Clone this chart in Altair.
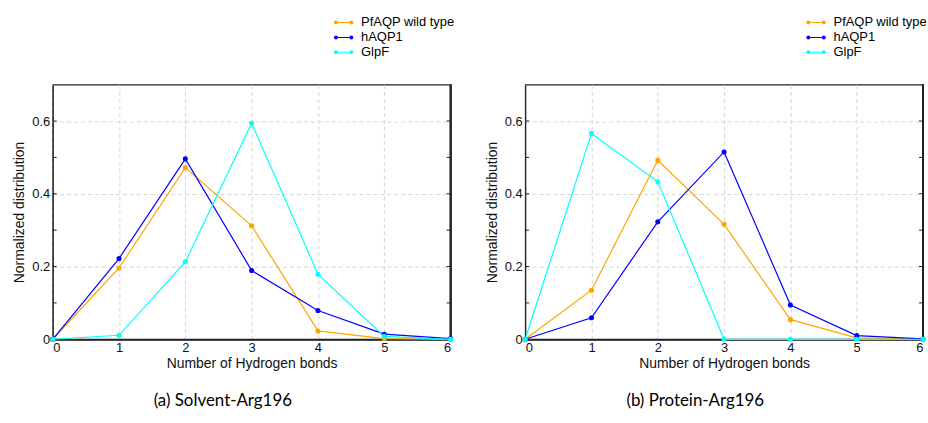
import altair as alt
import pandas as pd

# ---- data ----
hbonds = [0, 1, 2, 3, 4, 5, 6]
series_names = ["PfAQP wild type", "hAQP1", "GlpF"]
series_colors = ["#FFA500", "#0000FF", "#00FFFF"]

solvent_pfaqp = [0.0, 0.196, 0.472, 0.312, 0.023, 0.002, 0.0]
solvent_haqp1 = [0.0, 0.222, 0.496, 0.189, 0.079, 0.014, 0.002]
solvent_glpf = [0.0, 0.011, 0.213, 0.594, 0.179, 0.008, 0.0]

protein_pfaqp = [0.0, 0.135, 0.492, 0.316, 0.054, 0.004, 0.0]
protein_haqp1 = [0.0, 0.059, 0.323, 0.515, 0.094, 0.010, 0.001]
protein_glpf = [0.0, 0.566, 0.433, 0.0, 0.0, 0.0, 0.0]

x_tick_values = [0, 1, 2, 3, 4, 5, 6]
y_tick_values = [0, 0.2, 0.4, 0.6]
y_minor_ticks = [0.1, 0.2, 0.3, 0.4, 0.5, 0.6]

captions = ["(a) Solvent-Arg196", "(b) Protein-Arg196"]

W, H = 400, 256
FONT = "Liberation Sans"

# legend symbol: short line with a dot at each end (filled path)
LEGEND_SYMBOL = (
    "M-1.15,-0.1H1.15V0.1H-1.15Z"
    "M-1.15,0A0.4,0.4 0 1,0 -1.95,0A0.4,0.4 0 1,0 -1.15,0Z"
    "M1.95,0A0.4,0.4 0 1,0 1.15,0A0.4,0.4 0 1,0 1.95,0Z"
)


def long_df(series_values):
    rows = []
    for name, vals in zip(series_names, series_values):
        for n, v in zip(hbonds, vals):
            rows.append({"n": n, "dist": v, "series": name})
    return pd.DataFrame(rows)


def panel(df, caption):
    x_enc = alt.X(
        "n:Q",
        scale=alt.Scale(domain=[0, 6], nice=False, zero=False),
        axis=alt.Axis(values=x_tick_values, title="Number of Hydrogen bonds",
                      format="d"),
    )
    y_enc = alt.Y(
        "dist:Q",
        scale=alt.Scale(domain=[0, 0.7], nice=False),
        axis=alt.Axis(values=y_tick_values, title="Normalized distribution",
                      labelExpr="datum.value == 0 ? '0' : format(datum.value, '.1f')"),
    )
    color_scale = alt.Scale(domain=series_names, range=series_colors)
    legend = alt.Legend(
        title=None, orient="none", legendX=286, legendY=-69,
        symbolType=LEGEND_SYMBOL, symbolSize=100, symbolOpacity=1,
        symbolStrokeWidth=0,
        labelFont=FONT, labelFontSize=13, labelColor="black",
        labelOffset=11, rowPadding=1, padding=0,
    )
    color_enc = alt.Color("series:N", scale=color_scale, sort=series_names, legend=legend)

    lines = alt.Chart(df).mark_line(strokeWidth=1.2).encode(
        x=x_enc, y=y_enc, color=color_enc,
    )
    points = alt.Chart(df).mark_circle(size=26, opacity=1).encode(
        x=x_enc, y=y_enc, color=color_enc,
    )
    tick_df = pd.DataFrame({"dist": y_minor_ticks})
    ticks_left = alt.Chart(tick_df).mark_rule(color="#222", strokeWidth=1).encode(
        y=y_enc, x=alt.value(0), x2=alt.value(4)
    )
    ticks_right = alt.Chart(tick_df).mark_rule(color="#222", strokeWidth=1).encode(
        y=y_enc, x=alt.value(W), x2=alt.value(W - 4)
    )
    right_edge = alt.Chart(tick_df).mark_rule(color="#222", strokeWidth=1.4).encode(
        x=alt.value(W), y=alt.value(0), y2=alt.value(H)
    )
    return alt.layer(ticks_left, ticks_right, right_edge, lines, points).properties(
        width=W, height=H,
        title=alt.TitleParams(caption, orient="bottom", anchor="middle",
                              frame="group", dx=-29, offset=23,
                              font="Lato", fontSize=17, fontWeight="normal",
                              color="black"),
    )


left = panel(long_df([solvent_pfaqp, solvent_haqp1, solvent_glpf]), captions[0])
right = panel(long_df([protein_pfaqp, protein_haqp1, protein_glpf]), captions[1])

chart = alt.hconcat(left, right, spacing=29).resolve_scale(
    color="independent"
).resolve_legend(
    color="independent"
).properties(
    padding={"left": 12, "top": 14, "right": 0, "bottom": 0},
    background="white",
).configure_view(
    stroke="#222", strokeWidth=1.2
).configure_axis(
    labelFont=FONT, labelFontSize=13, labelColor="#111",
    titleFont=FONT, titleFontSize=14, titleColor="#111", titleFontWeight="normal",
    domainColor="#222", domainWidth=1.2,
    ticks=False, labelPadding=3,
    grid=True, gridColor="#d6d6d6", gridDash=[4, 3], gridWidth=1,
).configure_axisX(
    domainWidth=2.2, titlePadding=2, labelPadding=2
).configure_axisY(
    titlePadding=5
)

chart.save("out.html", embed_options={"renderer": "svg", "actions": False})
